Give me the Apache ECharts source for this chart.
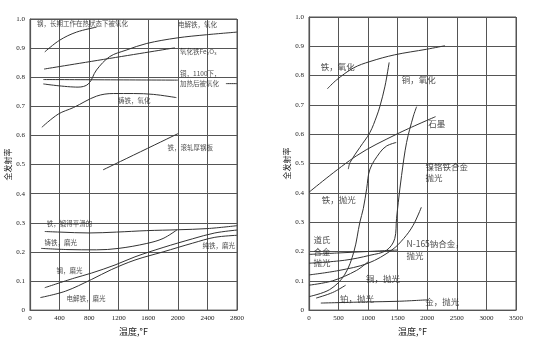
<!DOCTYPE html>
<html>
<head>
<meta charset="utf-8">
<script src="https://cdn.jsdelivr.net/npm/echarts@6/dist/echarts.min.js"></script>
<style>
  html, body { margin: 0; padding: 0; background: #fff; }
  #chart { width: 534px; height: 341px; }
</style>
</head>
<body>
<div id="chart"></div>
<script>
// ---- Left panel: ferrous metals and copper (temperature °F, total emissivity) ----
var leftTicksX = [0, 400, 800, 1200, 1600, 2000, 2400, 2800];
var steelOxidizedHot = [[200, 0.887], [400, 0.927], [630, 0.955], [900, 0.972]];
var elecIronOxidized = [[180, 0.777], [650, 0.766], [790, 0.777], [900, 0.825], [1080, 0.871], [1300, 0.893], [1580, 0.916], [1990, 0.935], [2390, 0.946], [2800, 0.955]];
var ironOxideFe2O3 = [[190, 0.828], [1960, 0.901]];
var copperOxidized1100 = [[180, 0.792], [2000, 0.790], [2300, '-'], [2650, 0.778], [2800, 0.778]];
var castIronOxidized = [[160, 0.628], [380, 0.673], [590, 0.696], [900, 0.735], [1130, 0.744], [1400, 0.744], [1670, 0.741], [1980, 0.730]];
var ironRolledPlate = [[990, 0.482], [2000, 0.606]];
var ironWrought = [[200, 0.270], [400, 0.268], [800, 0.265], [1170, 0.268], [1580, 0.273], [2000, 0.276], [2400, 0.280], [2800, 0.290]];
var castIronPolished = [[150, 0.212], [500, 0.208], [900, 0.207], [1200, 0.212], [1580, 0.229], [1800, 0.246], [1990, 0.276]];
var steelPolished = [[200, 0.077], [600, 0.110], [830, 0.127], [1150, 0.155], [1420, 0.183], [1800, 0.215], [2200, 0.245], [2500, 0.265], [2800, 0.275]];
var elecIronPolished = [[140, 0.043], [480, 0.065], [830, 0.105], [1100, 0.139], [1420, 0.172], [1800, 0.200], [2200, 0.230], [2500, 0.250], [2800, 0.257]];

// ---- Right panel: other metals and graphite ----
var rightTicksX = [0, 500, 1000, 1500, 2000, 2500, 3000, 3500];
var ironOxidized = [[310, 0.755], [470, 0.786], [750, 0.826], [1030, 0.848], [1450, 0.871], [1990, 0.890], [2300, 0.902]];
var copperOxidized = [[665, 0.481], [695, 0.504], [860, 0.555], [1030, 0.606], [1145, 0.662], [1200, 0.696], [1285, 0.764], [1355, 0.845]];
var graphite = [[0, 0.402], [800, 0.526], [1480, 0.600], [2140, 0.660]];
var nichromePolished = [[1820, 0.694], [1765, 0.662], [1650, 0.572], [1565, 0.459], [1510, 0.368], [1480, 0.312], [1450, 0.244], [1310, 0.204], [1030, 0.187], [600, 0.170], [0, 0.160]];
var ironPolished = [[1475, 0.572], [1313, 0.560], [1200, 0.538], [1031, 0.481], [975, 0.414], [918, 0.346], [860, 0.300], [760, 0.200], [600, 0.120], [350, 0.070], [0, 0.046]];
var dowMetalPolished = [[0, 0.190], [500, 0.195], [1000, 0.200], [1500, 0.205]];
var n165Polished = [[0, 0.120], [500, 0.135], [1000, 0.160], [1400, 0.205], [1600, 0.244], [1760, 0.289], [1900, 0.351]];
var copperPolished = [[0, 0.085], [400, 0.100], [800, 0.135], [1000, 0.165]];
var platinumPolished = [[120, 0.041], [400, 0.060], [620, 0.085]];
var goldPolished = [[200, 0.024], [1000, 0.028], [1500, 0.030], [2000, 0.035]];

// Annotations: [temperature, emissivity, text]
var leftNotes = [
  [95, 0.983, '钢，长期工作在热状态下被氧化'],
  [2002, 0.980, '电解铁，氧化'],
  [2030, 0.887, '氧化铁Fe₂O₃'],
  [2030, 0.795, '铜，1100下，\n加热后被氧化'],
  [1190, 0.720, '铸铁，氧化'],
  [1860, 0.560, '铁，滚轧厚钢板'],
  [225, 0.297, '铁，锻得平滑的'],
  [195, 0.232, '铸铁，磨光'],
  [360, 0.135, '钢，磨光'],
  [495, 0.040, '电解铁，磨光'],
  [2335, 0.223, '纯铁，磨光']
];
var rightNotes = [
  [200, 0.830, '铁，氧化'],
  [1570, 0.785, '铜，氧化'],
  [2015, 0.635, '石墨'],
  [1970, 0.470, '镍铬铁合金\n抛光'],
  [215, 0.377, '铁，抛光'],
  [75, 0.200, '道氏\n合金\n抛光'],
  [1650, 0.205, 'N-165钠合金，\n抛光'],
  [965, 0.106, '铜，抛光'],
  [525, 0.038, '铂，抛光'],
  [1965, 0.030, '金，抛光']
];

var lineColor = '#333';
var gridColor = '#555';
var textFont = '"Noto Sans CJK SC", sans-serif';

function curve(data, xi) {
  return {
    type: 'line', xAxisIndex: xi, yAxisIndex: xi, data: data,
    showSymbol: false, smooth: 0.35, connectNulls: false, silent: true,
    lineStyle: { color: lineColor, width: 1 }
  };
}
function notes(list, xi, size) {
  return {
    type: 'scatter', xAxisIndex: xi, yAxisIndex: xi, symbolSize: 0, silent: true,
    data: list.map(function (n) { return { value: [n[0], n[1]], name: n[2] }; }),
    label: {
      show: true, position: 'right', distance: 0, formatter: '{b}',
      fontFamily: textFont, fontSize: size, color: '#1a1a1a', lineHeight: size + 3
    }
  };
}
function xAxis(gi, ticks) {
  return {
    type: 'value', gridIndex: gi, min: ticks[0], max: ticks[ticks.length - 1],
    interval: ticks[1] - ticks[0],
    name: '温度,°F', nameLocation: 'middle', nameGap: 13,
    nameTextStyle: { fontFamily: textFont, fontSize: 9, color: '#1a1a1a' },
    axisLine: { lineStyle: { color: gridColor, width: 1.2 } },
    axisTick: { show: false },
    splitLine: { show: true, lineStyle: { color: gridColor, width: 1 } },
    axisLabel: {
      fontFamily: 'Liberation Serif, serif', fontSize: 7, color: '#222', margin: 5,
      formatter: function (v) { return String(v); }
    }
  };
}
function yAxis(gi) {
  return {
    type: 'value', gridIndex: gi, min: 0, max: 1, interval: 0.1,
    name: '全发射率', nameLocation: 'middle', nameGap: 17, nameRotate: 90,
    nameTextStyle: { fontFamily: textFont, fontSize: 8, color: '#1a1a1a' },
    axisLine: { show: true, lineStyle: { color: gridColor, width: 1.2 } },
    axisTick: { show: false },
    splitLine: { show: true, lineStyle: { color: gridColor, width: 1 } },
    axisLabel: {
      fontFamily: 'Liberation Serif, serif', fontSize: 7, color: '#222', margin: 5,
      formatter: function (v) { return v === 0 ? '0' : v.toFixed(1); }
    }
  };
}

var chart = echarts.init(document.getElementById('chart'), null, { renderer: 'canvas' });
chart.setOption({
  animation: false,
  backgroundColor: '#fff',
  grid: [
    { left: 30, top: 19, width: 207, height: 297, show: true, borderColor: gridColor, borderWidth: 1 },
    { left: 309, top: 17, width: 207, height: 295, show: true, borderColor: gridColor, borderWidth: 1 }
  ],
  xAxis: [xAxis(0, leftTicksX), xAxis(1, rightTicksX)],
  yAxis: [yAxis(0), yAxis(1)],
  series: [
    curve(steelOxidizedHot, 0), curve(elecIronOxidized, 0), curve(ironOxideFe2O3, 0),
    curve(copperOxidized1100, 0), curve(castIronOxidized, 0), curve(ironRolledPlate, 0),
    curve(ironWrought, 0), curve(castIronPolished, 0), curve(steelPolished, 0), curve(elecIronPolished, 0),
    curve(ironOxidized, 1), curve(copperOxidized, 1), curve(graphite, 1), curve(nichromePolished, 1),
    curve(ironPolished, 1), curve(dowMetalPolished, 1), curve(n165Polished, 1), curve(copperPolished, 1),
    curve(platinumPolished, 1), curve(goldPolished, 1),
    notes(leftNotes, 0, 6.5), notes(rightNotes, 1, 8.5)
  ]
});
</script>
</body>
</html>
